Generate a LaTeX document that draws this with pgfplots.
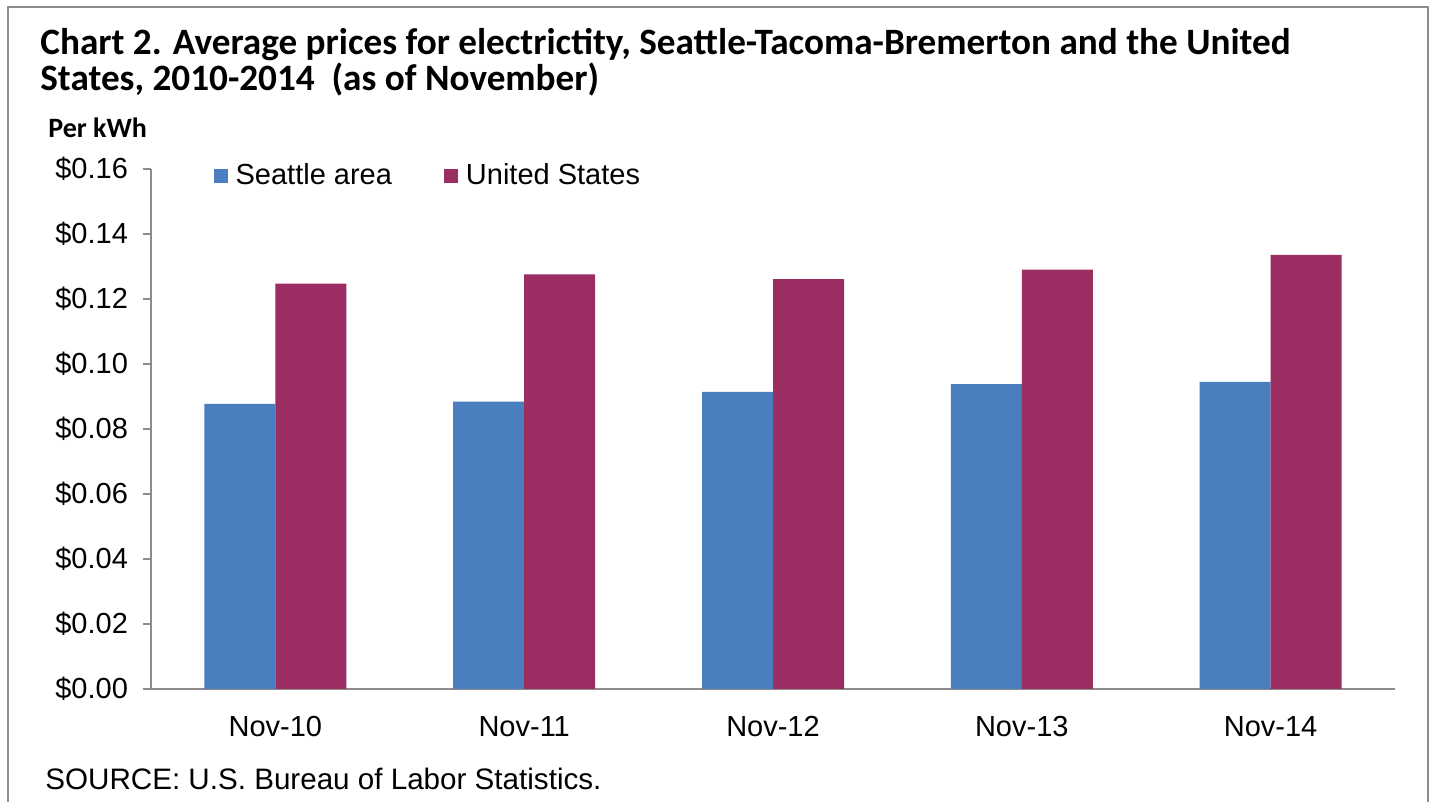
\documentclass[border=0pt]{standalone}
\usepackage{pgfplots}
\pgfplotsset{compat=1.18}
\usepackage{fontspec}
\setmainfont{Liberation Sans}
\newfontfamily\titlefont{Carlito}
\definecolor{seablue}{HTML}{4A7EBE}
\definecolor{usmaroon}{HTML}{9A2D62}
\definecolor{axgray}{HTML}{8C8C8C}
\begin{document}
\begin{tikzpicture}
\path[use as bounding box] (0,0) rectangle (717.5pt,401pt);
\draw[axgray, line width=0.9pt] (4pt,-2pt) -- (4pt,397.5pt) -- (714pt,397.5pt) -- (714pt,-2pt);
\node[anchor=base west, inner sep=0pt, font=\titlefont\bfseries\fontsize{18.6}{21}\selectfont] at (20pt,373.5pt)
  {Chart 2. Average prices for electrictity, Seattle-Tacoma-Bremerton and the United};
\node[anchor=base west, inner sep=0pt, font=\titlefont\bfseries\fontsize{18.6}{21}\selectfont] at (20pt,355.5pt)
  {States, 2010-2014 \ (as of November)};
\node[anchor=base west, inner sep=0pt, font=\titlefont\bfseries\fontsize{14}{17}\selectfont] at (24pt,332pt)
  {Per kWh};
\node[anchor=base west, inner sep=0pt, font=\fontsize{14.8}{17}\selectfont] at (22.5pt,6pt)
  {SOURCE: U.S. Bureau of Labor Statistics.};
\begin{axis}[
  at={(75.5pt,56.5pt)}, anchor=south west,
  scale only axis, width=622pt, height=260pt,
  xmin=-0.5, xmax=4.5, ymin=0, ymax=0.16,
  axis x line=bottom, axis y line=left,
  axis line style={axgray, line width=0.8pt, -},
  ybar=0pt, bar width=35.5pt,
  xtick={0,1,2,3,4},
  xticklabels={Nov-10,Nov-11,Nov-12,Nov-13,Nov-14},
  x tick style={draw=none},
  extra x ticks={-0.5,0.5,1.5,2.5,3.5,4.5},
  extra x tick labels={},
  extra x tick style={tick style={axgray, line width=0.8pt, draw=axgray}, major tick length=6pt, tick align=outside},
  ytick={0,0.02,...,0.16},
  y tick style={axgray, line width=0.8pt},
  tick align=outside, major tick length=4pt,
  /pgf/number format/assume math mode=true,
  yticklabel={\$\pgfmathprintnumber[fixed,fixed zerofill,precision=2]{\tick}},
  ticklabel style={font=\fontsize{14.5}{17}\selectfont, text=black},
  yticklabel style={xshift=-4pt},
  xticklabel style={yshift=-6pt},
  legend columns=2,
  legend style={draw=none, fill=none, at={(0.05,0.987)}, anchor=west,
    font=\fontsize{14.5}{17}\selectfont, inner sep=0pt,
    /tikz/every even column/.append style={column sep=24pt}},
  legend image code/.code={\fill[#1] (0pt,-3.5pt) rectangle (7pt,3.5pt);},
  legend cell align=left,
]
\addplot[fill=seablue, draw=none] coordinates {(0,0.0877) (1,0.0884) (2,0.0914) (3,0.0938) (4,0.0945)};
\addlegendentry{\hspace{2pt}Seattle area}
\addplot[fill=usmaroon, draw=none] coordinates {(0,0.1247) (1,0.1276) (2,0.1261) (3,0.1290) (4,0.1336)};
\addlegendentry{\hspace{2pt}United States}
\end{axis}
\end{tikzpicture}
\end{document}
